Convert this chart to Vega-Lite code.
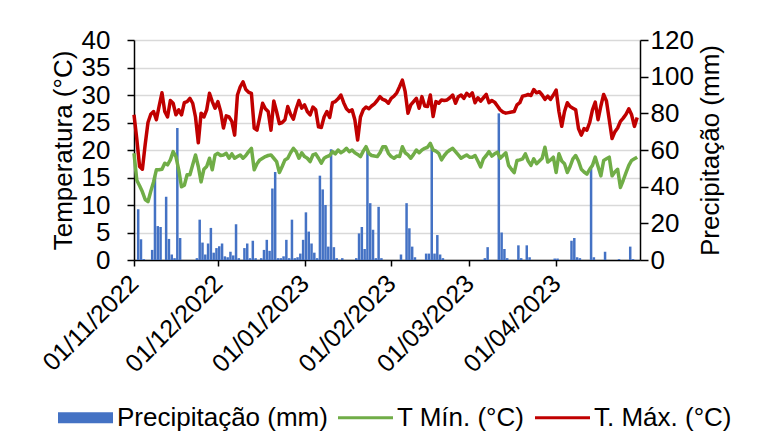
{
"$schema": "https://vega.github.io/schema/vega-lite/v6.json",
"width": 506, "height": 220,
"autosize": {"type": "none"},
"padding": {"left": 134, "top": 40, "right": 126, "bottom": 188},
"background": "white",
"config": {"view": {"stroke": null}, "font": "Liberation Sans"},
"data": {"values": [
{"date":"2022-11-01","tmin":19.4,"tmax":26.4,"prec":0},
{"date":"2022-11-02","tmin":14.5,"tmax":22,"prec":27.7},
{"date":"2022-11-03","tmin":13.5,"tmax":17,"prec":11.3},
{"date":"2022-11-04","tmin":12.4,"tmax":16.5,"prec":0.5},
{"date":"2022-11-05","tmin":11,"tmax":21,"prec":0},
{"date":"2022-11-06","tmin":10.6,"tmax":25,"prec":0},
{"date":"2022-11-07","tmin":12.5,"tmax":26.5,"prec":5.5},
{"date":"2022-11-08","tmin":14.2,"tmax":27,"prec":46},
{"date":"2022-11-09","tmin":16.4,"tmax":25.5,"prec":18.5},
{"date":"2022-11-10","tmin":16.4,"tmax":28,"prec":18},
{"date":"2022-11-11","tmin":16.5,"tmax":30.4,"prec":0},
{"date":"2022-11-12","tmin":17.6,"tmax":27,"prec":34.5},
{"date":"2022-11-13","tmin":17.3,"tmax":26,"prec":11.5},
{"date":"2022-11-14","tmin":18.2,"tmax":29,"prec":3},
{"date":"2022-11-15","tmin":19.7,"tmax":28.5,"prec":1},
{"date":"2022-11-16","tmin":18.8,"tmax":26.4,"prec":72},
{"date":"2022-11-17","tmin":16.4,"tmax":27.3,"prec":12},
{"date":"2022-11-18","tmin":13.3,"tmax":26.4,"prec":0},
{"date":"2022-11-19","tmin":13.6,"tmax":28.6,"prec":0},
{"date":"2022-11-20","tmin":15.5,"tmax":28.8,"prec":0},
{"date":"2022-11-21","tmin":15.5,"tmax":29.4,"prec":0},
{"date":"2022-11-22","tmin":17.3,"tmax":28.5,"prec":0},
{"date":"2022-11-23","tmin":19.1,"tmax":26,"prec":1},
{"date":"2022-11-24","tmin":17,"tmax":21.3,"prec":22},
{"date":"2022-11-25","tmin":14.2,"tmax":26.7,"prec":9.5},
{"date":"2022-11-26","tmin":16.5,"tmax":26,"prec":3},
{"date":"2022-11-27","tmin":17,"tmax":27.3,"prec":9},
{"date":"2022-11-28","tmin":18.5,"tmax":30.3,"prec":17.5},
{"date":"2022-11-29","tmin":16.4,"tmax":28.8,"prec":4},
{"date":"2022-11-30","tmin":19.1,"tmax":27.6,"prec":6.5},
{"date":"2022-12-01","tmin":19.4,"tmax":28.8,"prec":7.5},
{"date":"2022-12-02","tmin":19,"tmax":27,"prec":9},
{"date":"2022-12-03","tmin":19.1,"tmax":24,"prec":2},
{"date":"2022-12-04","tmin":19.4,"tmax":26.2,"prec":1.5},
{"date":"2022-12-05","tmin":18.5,"tmax":26,"prec":4.5},
{"date":"2022-12-06","tmin":19.3,"tmax":25.2,"prec":2.5},
{"date":"2022-12-07","tmin":18.5,"tmax":22.7,"prec":19.5},
{"date":"2022-12-08","tmin":18.8,"tmax":30,"prec":1},
{"date":"2022-12-09","tmin":19.1,"tmax":31.5,"prec":0},
{"date":"2022-12-10","tmin":18.5,"tmax":32.4,"prec":6.5},
{"date":"2022-12-11","tmin":19,"tmax":31,"prec":9},
{"date":"2022-12-12","tmin":19.7,"tmax":30.5,"prec":1},
{"date":"2022-12-13","tmin":20.3,"tmax":30.3,"prec":10.5},
{"date":"2022-12-14","tmin":16.4,"tmax":24,"prec":1},
{"date":"2022-12-15","tmin":17.5,"tmax":23.6,"prec":0},
{"date":"2022-12-16","tmin":18.2,"tmax":26,"prec":1},
{"date":"2022-12-17","tmin":18.5,"tmax":28.5,"prec":5.5},
{"date":"2022-12-18","tmin":18.8,"tmax":27.5,"prec":11},
{"date":"2022-12-19","tmin":19,"tmax":27,"prec":5},
{"date":"2022-12-20","tmin":19.1,"tmax":23.6,"prec":39},
{"date":"2022-12-21","tmin":18.5,"tmax":28.9,"prec":48},
{"date":"2022-12-22","tmin":17.9,"tmax":27,"prec":1},
{"date":"2022-12-23","tmin":15.9,"tmax":24.8,"prec":1},
{"date":"2022-12-24","tmin":17,"tmax":25,"prec":2},
{"date":"2022-12-25","tmin":18.2,"tmax":25.5,"prec":11},
{"date":"2022-12-26","tmin":18.5,"tmax":27.9,"prec":1},
{"date":"2022-12-27","tmin":19.5,"tmax":26.5,"prec":22},
{"date":"2022-12-28","tmin":20.3,"tmax":25.6,"prec":1},
{"date":"2022-12-29","tmin":19.7,"tmax":27.5,"prec":1.5},
{"date":"2022-12-30","tmin":18.5,"tmax":29,"prec":3.5},
{"date":"2022-12-31","tmin":19.5,"tmax":27.6,"prec":11},
{"date":"2023-01-01","tmin":18.8,"tmax":28.2,"prec":26},
{"date":"2023-01-02","tmin":18.5,"tmax":27,"prec":15.5},
{"date":"2023-01-03","tmin":17.9,"tmax":26.4,"prec":9},
{"date":"2023-01-04","tmin":19.1,"tmax":27.8,"prec":4},
{"date":"2023-01-05","tmin":19.3,"tmax":27.3,"prec":1},
{"date":"2023-01-06","tmin":18.5,"tmax":24.2,"prec":46},
{"date":"2023-01-07","tmin":17.6,"tmax":24.1,"prec":38.5},
{"date":"2023-01-08","tmin":18.5,"tmax":26,"prec":30},
{"date":"2023-01-09","tmin":18.8,"tmax":27,"prec":7.3},
{"date":"2023-01-10","tmin":19,"tmax":25.9,"prec":60.4},
{"date":"2023-01-11","tmin":19.7,"tmax":28.6,"prec":7},
{"date":"2023-01-12","tmin":19.3,"tmax":28.8,"prec":1},
{"date":"2023-01-13","tmin":20,"tmax":29.3,"prec":0},
{"date":"2023-01-14","tmin":19.5,"tmax":30,"prec":1},
{"date":"2023-01-15","tmin":19.8,"tmax":28.6,"prec":0},
{"date":"2023-01-16","tmin":20.3,"tmax":27.5,"prec":0},
{"date":"2023-01-17","tmin":19.7,"tmax":27,"prec":0},
{"date":"2023-01-18","tmin":20,"tmax":27.3,"prec":0},
{"date":"2023-01-19","tmin":19.5,"tmax":25.5,"prec":1},
{"date":"2023-01-20","tmin":19.2,"tmax":21.8,"prec":14.5},
{"date":"2023-01-21","tmin":18.8,"tmax":26,"prec":18},
{"date":"2023-01-22","tmin":19.8,"tmax":27.3,"prec":6},
{"date":"2023-01-23","tmin":20.6,"tmax":27.8,"prec":60},
{"date":"2023-01-24","tmin":19.4,"tmax":27.5,"prec":31},
{"date":"2023-01-25","tmin":19,"tmax":28,"prec":16.5},
{"date":"2023-01-26","tmin":18.9,"tmax":28.4,"prec":1},
{"date":"2023-01-27","tmin":18.8,"tmax":29,"prec":29},
{"date":"2023-01-28","tmin":19.5,"tmax":29.7,"prec":1},
{"date":"2023-01-29","tmin":20.6,"tmax":29.2,"prec":0},
{"date":"2023-01-30","tmin":20.6,"tmax":29,"prec":0},
{"date":"2023-01-31","tmin":19.4,"tmax":28.5,"prec":0},
{"date":"2023-02-01","tmin":18.8,"tmax":29.4,"prec":0},
{"date":"2023-02-02","tmin":18.5,"tmax":29.8,"prec":0},
{"date":"2023-02-03","tmin":18.9,"tmax":30.4,"prec":0},
{"date":"2023-02-04","tmin":18.8,"tmax":31.5,"prec":3},
{"date":"2023-02-05","tmin":20.6,"tmax":32.7,"prec":0},
{"date":"2023-02-06","tmin":19.5,"tmax":30.6,"prec":31},
{"date":"2023-02-07","tmin":19.1,"tmax":26.7,"prec":17.3},
{"date":"2023-02-08","tmin":18.5,"tmax":28.2,"prec":7.3},
{"date":"2023-02-09","tmin":19.2,"tmax":28.8,"prec":1.5},
{"date":"2023-02-10","tmin":20,"tmax":29.4,"prec":0},
{"date":"2023-02-11","tmin":19.5,"tmax":27.6,"prec":0},
{"date":"2023-02-12","tmin":20,"tmax":29.7,"prec":0},
{"date":"2023-02-13","tmin":20.3,"tmax":28,"prec":3.5},
{"date":"2023-02-14","tmin":20.5,"tmax":27.9,"prec":3.5},
{"date":"2023-02-15","tmin":21.2,"tmax":30,"prec":62},
{"date":"2023-02-16","tmin":20,"tmax":26.1,"prec":3.5},
{"date":"2023-02-17","tmin":19.8,"tmax":28.8,"prec":13.6},
{"date":"2023-02-18","tmin":19.4,"tmax":28.5,"prec":3},
{"date":"2023-02-19","tmin":18.2,"tmax":29.1,"prec":1},
{"date":"2023-02-20","tmin":19,"tmax":29,"prec":0},
{"date":"2023-02-21","tmin":19.6,"tmax":29.1,"prec":0},
{"date":"2023-02-22","tmin":20,"tmax":29.5,"prec":0},
{"date":"2023-02-23","tmin":20.3,"tmax":30,"prec":0},
{"date":"2023-02-24","tmin":19.7,"tmax":28.5,"prec":0},
{"date":"2023-02-25","tmin":19.1,"tmax":29.7,"prec":0},
{"date":"2023-02-26","tmin":18.5,"tmax":30,"prec":0},
{"date":"2023-02-27","tmin":18.8,"tmax":29.4,"prec":0},
{"date":"2023-02-28","tmin":19.1,"tmax":30.3,"prec":0},
{"date":"2023-03-01","tmin":18.7,"tmax":29.8,"prec":0},
{"date":"2023-03-02","tmin":18.7,"tmax":30.4,"prec":0},
{"date":"2023-03-03","tmin":19,"tmax":28.6,"prec":0},
{"date":"2023-03-04","tmin":18,"tmax":29.5,"prec":0},
{"date":"2023-03-05","tmin":16.9,"tmax":28.9,"prec":0},
{"date":"2023-03-06","tmin":18.4,"tmax":29.5,"prec":1},
{"date":"2023-03-07","tmin":19,"tmax":30.1,"prec":7},
{"date":"2023-03-08","tmin":19.7,"tmax":28.6,"prec":0},
{"date":"2023-03-09","tmin":18.9,"tmax":29,"prec":0},
{"date":"2023-03-10","tmin":19.3,"tmax":28.7,"prec":0},
{"date":"2023-03-11","tmin":19.6,"tmax":28,"prec":80},
{"date":"2023-03-12","tmin":18.5,"tmax":27.3,"prec":15},
{"date":"2023-03-13","tmin":19,"tmax":26.9,"prec":6},
{"date":"2023-03-14","tmin":19.5,"tmax":26.7,"prec":1},
{"date":"2023-03-15","tmin":17.2,"tmax":26.8,"prec":0},
{"date":"2023-03-16","tmin":16.5,"tmax":26.9,"prec":0},
{"date":"2023-03-17","tmin":15.9,"tmax":27,"prec":0},
{"date":"2023-03-18","tmin":18.1,"tmax":28.2,"prec":8},
{"date":"2023-03-19","tmin":18.2,"tmax":28.6,"prec":1},
{"date":"2023-03-20","tmin":18.4,"tmax":29.8,"prec":0},
{"date":"2023-03-21","tmin":19.3,"tmax":29.9,"prec":8},
{"date":"2023-03-22","tmin":18,"tmax":30.1,"prec":1.5},
{"date":"2023-03-23","tmin":17.2,"tmax":29.9,"prec":0},
{"date":"2023-03-24","tmin":18.4,"tmax":31,"prec":0},
{"date":"2023-03-25","tmin":17.5,"tmax":30.4,"prec":0},
{"date":"2023-03-26","tmin":18,"tmax":30.6,"prec":0},
{"date":"2023-03-27","tmin":18.5,"tmax":30,"prec":0},
{"date":"2023-03-28","tmin":20.5,"tmax":29.2,"prec":0},
{"date":"2023-03-29","tmin":17.8,"tmax":29.8,"prec":0},
{"date":"2023-03-30","tmin":18.2,"tmax":29.2,"prec":0},
{"date":"2023-03-31","tmin":18.7,"tmax":30,"prec":0.8},
{"date":"2023-04-01","tmin":15.9,"tmax":30.9,"prec":0.8},
{"date":"2023-04-02","tmin":19.3,"tmax":27,"prec":0},
{"date":"2023-04-03","tmin":18,"tmax":24.3,"prec":0},
{"date":"2023-04-04","tmin":17.5,"tmax":27,"prec":0},
{"date":"2023-04-05","tmin":15.9,"tmax":28.6,"prec":0},
{"date":"2023-04-06","tmin":17,"tmax":27.9,"prec":10.5},
{"date":"2023-04-07","tmin":18.4,"tmax":27.6,"prec":12},
{"date":"2023-04-08","tmin":19,"tmax":27.3,"prec":1.5},
{"date":"2023-04-09","tmin":18,"tmax":23.9,"prec":1},
{"date":"2023-04-10","tmin":16.5,"tmax":22.7,"prec":0},
{"date":"2023-04-11","tmin":16,"tmax":23.9,"prec":0},
{"date":"2023-04-12","tmin":15.6,"tmax":23.6,"prec":0},
{"date":"2023-04-13","tmin":16.5,"tmax":25,"prec":50},
{"date":"2023-04-14","tmin":17.2,"tmax":27.3,"prec":1.5},
{"date":"2023-04-15","tmin":18.7,"tmax":28.7,"prec":0},
{"date":"2023-04-16","tmin":17,"tmax":25.5,"prec":0},
{"date":"2023-04-17","tmin":15.3,"tmax":28,"prec":0},
{"date":"2023-04-18","tmin":18.1,"tmax":30.1,"prec":4.5},
{"date":"2023-04-19","tmin":18.4,"tmax":28.9,"prec":0},
{"date":"2023-04-20","tmin":18.7,"tmax":25.5,"prec":0},
{"date":"2023-04-21","tmin":15.3,"tmax":22.1,"prec":0},
{"date":"2023-04-22","tmin":16,"tmax":23.3,"prec":0},
{"date":"2023-04-23","tmin":16.5,"tmax":24,"prec":0.5},
{"date":"2023-04-24","tmin":13.2,"tmax":25.2,"prec":0},
{"date":"2023-04-25","tmin":14.5,"tmax":25.8,"prec":0},
{"date":"2023-04-26","tmin":15.9,"tmax":26.5,"prec":0},
{"date":"2023-04-27","tmin":17.2,"tmax":27.5,"prec":7.3},
{"date":"2023-04-28","tmin":18.1,"tmax":26.4,"prec":0.5},
{"date":"2023-04-29","tmin":18.4,"tmax":24.3,"prec":0},
{"date":"2023-04-30","tmin":18.7,"tmax":25.9,"prec":0}
]},
"encoding": {
  "x": {"field": "date", "timeUnit": "utcyearmonthdate", "type": "temporal",
    "scale": {"domain": [{"year": 2022, "month": 11, "date": 1, "utc": true}, {"year": 2023, "month": 5, "date": 1, "utc": true}]},
    "axis": {"title": null, "grid": false,
      "values": [{"year": 2022, "month": 11, "date": 1, "utc": true}, {"year": 2022, "month": 12, "date": 1, "utc": true}, {"year": 2023, "month": 1, "date": 1, "utc": true}, {"year": 2023, "month": 2, "date": 1, "utc": true}, {"year": 2023, "month": 3, "date": 1, "utc": true}, {"year": 2023, "month": 4, "date": 1, "utc": true}],
      "format": "%d/%m/%Y", "labelAngle": -45, "labelAlign": "right", "labelBaseline": "middle",
      "labelFontSize": 25, "labelColor": "black", "labelPadding": 13, "labelDx": 6, "labelFlush": false, "labelOverlap": false,
      "tickSize": 6, "tickColor": "black", "tickWidth": 1.5, "domainColor": "black", "domainWidth": 1.5}}
},
"layer": [
  {"mark": {"type": "bar", "width": 2.5, "timeUnitBandPosition": 0.5},
   "encoding": {
     "y": {"field": "prec", "type": "quantitative", "scale": {"domain": [0, 120]},
       "axis": {"orient": "right", "title": "Precipitação (mm)", "values": [0, 20, 40, 60, 80, 100, 120], "grid": false,
         "labelFontSize": 26, "labelColor": "black", "labelPadding": 2, "tickSize": 8, "tickColor": "black", "tickWidth": 1.5,
         "domainColor": "black", "domainWidth": 1.5, "titleFontSize": 26, "titleFontWeight": "normal", "titleColor": "black",
         "titleAngle": 270, "titleBaseline": "top", "titlePadding": 4}},
     "color": {"datum": "Precipitação (mm)", "type": "nominal",
       "scale": {"domain": ["Precipitação (mm)", "T Mín. (°C)", "T. Máx. (°C)"], "range": ["#4472C4", "#70AD47", "#C00000"]},
       "legend": {"orient": "none", "legendX": -76, "legendY": 350, "direction": "horizontal", "title": null,
         "symbolSize": 3025, "labelFontSize": 26, "labelColor": "black", "labelOffset": 4, "columnPadding": 10, "labelLimit": 400,
         "padding": 0, "symbolStrokeWidth": 0, "symbolOpacity": 1,
         "encode": {"symbols": {"update": {
           "shape": {"signal": "datum.value === 'Precipitação (mm)' ? 'M-1,-0.2H1V0.2H-1Z' : 'M-1,-0.055H1V0.055H-1Z'"},
           "fill": {"signal": "scale('color', datum.value)"},
           "stroke": {"value": "transparent"}}}}}}
   }},
  {"layer": [
    {"mark": {"type": "line", "strokeWidth": 3.5, "strokeJoin": "round", "timeUnitBandPosition": 0.5},
     "encoding": {"y": {"field": "tmin", "type": "quantitative"}, "color": {"datum": "T Mín. (°C)", "type": "nominal"}}},
    {"mark": {"type": "line", "strokeWidth": 3.5, "strokeJoin": "round", "timeUnitBandPosition": 0.5},
     "encoding": {"y": {"field": "tmax", "type": "quantitative"}, "color": {"datum": "T. Máx. (°C)", "type": "nominal"}}}
   ],
   "encoding": {
     "y": {"type": "quantitative", "scale": {"domain": [0, 40]},
       "axis": {"orient": "left", "title": "Temperatura (°C)", "values": [0, 5, 10, 15, 20, 25, 30, 35, 40],
         "grid": true, "gridColor": "#D9D9D9", "gridWidth": 1.5,
         "labelFontSize": 26, "labelColor": "black", "labelPadding": 17, "tickSize": 7, "tickColor": "black", "tickWidth": 1.5,
         "domainColor": "black", "domainWidth": 1.5, "titleFontSize": 26, "titleFontWeight": "normal", "titleColor": "black",
         "titlePadding": 5}}
   }}
],
"resolve": {"scale": {"y": "independent"}, "axis": {"y": "independent"}}
}
